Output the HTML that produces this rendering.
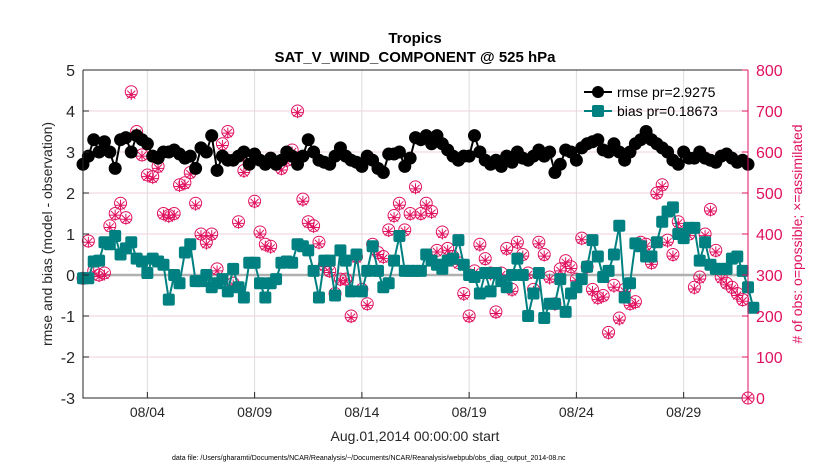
<!DOCTYPE html>
<html><head><meta charset="utf-8">
<style>
body{margin:0;background:#fff;}
svg{display:block;font-family:"Liberation Sans",Arial,sans-serif;}
</style></head>
<body>
<svg id="chart" width="830" height="470" viewBox="0 0 830 470">
  <rect x="0" y="0" width="830" height="470" fill="#fff"/>
  <g id="grid"></g>
  <g id="zero"></g>
  <g id="series"></g>
  <g id="axes"></g>
  <text x="415" y="43" text-anchor="middle" font-size="15" font-weight="bold" fill="#000">Tropics</text>
  <text x="415" y="62" text-anchor="middle" font-size="15" font-weight="bold" fill="#000">SAT_V_WIND_COMPONENT @ 525 hPa</text>
  <text transform="translate(52,234) rotate(-90)" text-anchor="middle" font-size="14" fill="#262626">rmse and bias (model - observation)</text>
  <text transform="translate(802,234) rotate(-90)" text-anchor="middle" font-size="14" fill="#e0115f"># of obs: o=possible; ×=assimilated</text>
  <text x="415" y="441" text-anchor="middle" font-size="14" fill="#262626">Aug.01,2014 00:00:00 start</text>
  <text x="172" y="460" font-size="7" fill="#000">data file: /Users/gharamti/Documents/NCAR/Reanalysis/~/Documents/NCAR/Reanalysis/webpub/obs_diag_output_2014-08.nc</text>
  <g>
    <line x1="584" y1="92" x2="612" y2="92" stroke="#000" stroke-width="2"/>
    <circle cx="598" cy="92" r="6" fill="#000"/>
    <text x="617" y="97" font-size="14" fill="#000">rmse pr=2.9275</text>
    <line x1="584" y1="111" x2="612" y2="111" stroke="#008080" stroke-width="2"/>
    <rect x="592" y="105" width="12" height="12" rx="2" fill="#008080"/>
    <text x="617" y="116" font-size="14" fill="#000">bias pr=0.18673</text>
  </g>
</svg>
<script>
const xTickLabels = ["08/04","08/09","08/14","08/19","08/24","08/29"];
const xTickDays = [3,8,13,18,23,28];
const leftTicks = [-3,-2,-1,0,1,2,3,4,5];
const rightTicks = [0,100,200,300,400,500,600,700,800];
const rmse = [2.7,2.9,3.3,3.0,3.25,3.0,2.6,3.3,3.35,3.0,3.4,3.3,3.2,2.9,2.85,3.0,3.0,3.05,2.95,2.85,2.9,2.6,3.1,3.0,3.4,2.55,2.9,2.8,2.8,2.9,3.0,2.7,2.95,2.8,2.7,2.85,2.7,2.8,3.0,2.9,2.7,2.9,3.3,3.0,2.8,2.75,2.7,2.9,3.1,2.9,2.8,2.75,2.65,2.9,2.8,2.6,2.5,2.95,2.95,3.0,2.65,2.85,3.35,3.3,3.4,3.2,3.4,3.2,3.05,2.9,2.8,2.9,2.9,3.4,3.0,2.8,2.7,2.8,2.65,2.9,2.75,3.0,2.85,2.8,2.9,3.05,2.9,3.0,2.5,2.7,3.05,3.0,2.8,3.1,3.2,3.25,3.3,3.05,3.0,3.2,3.0,2.8,3.0,3.2,3.3,3.5,3.3,3.2,3.1,3.0,2.8,2.7,3.0,2.85,2.85,3.0,2.85,2.8,2.75,2.9,2.95,2.85,2.75,2.8,2.7];
const bias = [-0.08,-0.08,0.33,0.35,0.8,0.75,0.95,0.5,0.65,0.8,0.4,0.33,0.05,0.4,0.33,0.25,-0.6,0.0,-0.2,0.55,0.75,-0.15,-0.15,0.0,-0.3,-0.2,-0.1,-0.4,0.15,-0.3,-0.55,0.3,0.3,-0.2,-0.55,-0.2,-0.1,0.3,0.33,0.3,0.75,0.7,0.6,0.1,-0.55,0.35,0.35,-0.5,0.6,0.35,-0.4,0.5,-0.4,0.1,0.7,0.1,-0.3,-0.2,0.35,0.95,0.1,0.1,0.1,0.1,0.5,0.35,0.25,0.15,0.35,0.4,0.85,0.25,0.0,-0.05,-0.45,0.05,-0.4,0.05,-0.15,-0.3,0.0,0.4,0.0,-1.0,-0.45,0.05,-1.05,-0.7,-0.7,-0.1,-0.9,-0.45,-0.3,-0.1,0.2,0.85,0.45,-0.05,0.1,0.5,1.2,-0.55,-0.2,0.77,0.7,0.45,0.45,0.8,1.3,1.55,1.65,1.0,0.9,1.15,1.15,0.35,0.8,0.25,0.15,0.15,0.15,0.4,0.45,0.1,-0.3,-0.8];
const obsPossible = [292,383,310,300,305,420,450,475,440,747,650,593,544,540,565,450,445,450,520,525,550,475,400,380,400,315,620,650,280,430,555,575,480,405,375,370,575,560,580,605,700,485,430,420,380,325,310,255,290,290,200,345,265,230,375,355,345,410,445,475,410,450,515,450,475,455,360,405,365,345,330,255,200,310,375,340,305,210,305,365,265,380,350,305,265,380,350,295,230,315,335,320,290,390,320,265,245,250,160,275,195,265,230,235,380,375,330,500,520,385,350,430,400,400,270,295,400,460,360,295,280,270,255,240,0];
const obsAssim = [290,380,305,296,300,416,446,470,436,740,645,590,540,535,560,446,440,446,516,520,546,470,396,375,396,310,616,646,276,426,550,570,476,400,370,365,570,556,576,600,696,480,426,416,376,320,306,250,286,286,196,340,260,226,370,350,340,406,440,470,406,446,510,446,470,450,356,400,360,340,326,250,196,306,370,336,300,206,300,360,260,376,346,300,260,376,346,290,226,310,330,316,286,386,316,260,240,246,156,270,190,260,226,230,376,370,326,496,516,380,346,426,396,396,266,290,396,456,356,290,276,266,250,236,0];

const NS='http://www.w3.org/2000/svg';
const L=83,R=748,T=70,B=398;
function xs(i){return L+(i*0.25)*(R-L)/31;}
function xd(d){return L+d*(R-L)/31;}
function yl(v){return B-(v+3)*(B-T)/8;}
function yr(v){return B-v*(B-T)/800;}
function mk(tag,attrs,parent){const e=document.createElementNS(NS,tag);for(const k in attrs)e.setAttribute(k,attrs[k]);parent.appendChild(e);return e;}
const grid=document.getElementById('grid'),axes=document.getElementById('axes'),ser=document.getElementById('series');
rightTicks.forEach(v=>{const g=mk('line',{x1:L,x2:R,y1:yr(v),y2:yr(v),stroke:'#f3cfdc','stroke-width':1},grid);

});
xTickDays.forEach(d=>{const g=mk('line',{x1:xd(d),x2:xd(d),y1:T,y2:B,stroke:'#dcdcdc','stroke-width':1},grid);

});
const z=mk('line',{x1:L,x2:R,y1:yl(0),y2:yl(0),stroke:'#b0b0b0','stroke-width':2.5},document.getElementById('zero'));


const box=mk('path',{d:`M${L},${T}H${R}M${L},${T}V${B}H${R}`,fill:'none',stroke:'#262626','stroke-width':1},axes);


const ra=mk('line',{x1:R,x2:R,y1:T,y2:B,stroke:'#e0115f','stroke-width':1},axes);


leftTicks.forEach(v=>{mk('line',{x1:L,x2:L+6,y1:yl(v),y2:yl(v),stroke:'#262626'},axes);
const t=mk('text',{x:L-8,y:yl(v)+6,'text-anchor':'end','font-size':16,fill:'#262626'},axes);t.textContent=v;

});
rightTicks.forEach(v=>{mk('line',{x1:R-6,x2:R,y1:yr(v),y2:yr(v),stroke:'#e0115f'},axes);
const t=mk('text',{x:R+8,y:yr(v)+6,'font-size':16,fill:'#e0115f'},axes);t.textContent=v;

});
xTickDays.forEach((d,i)=>{mk('line',{x1:xd(d),x2:xd(d),y1:B,y2:B-6,stroke:'#262626'},axes);
const t=mk('text',{x:xd(d),y:B+19,'text-anchor':'middle','font-size':14,fill:'#262626'},axes);t.textContent=xTickLabels[i];

});
obsPossible.forEach((v,i)=>{const c=mk('circle',{cx:xs(i),cy:yr(v),r:6,fill:'none',stroke:'#e0115f','stroke-width':1},ser);

});
obsAssim.forEach((v,i)=>{const x=xs(i),y=yr(v),s=5.5,d=4;
const p=mk('path',{d:`M${x-s},${y}H${x+s}M${x},${y-s}V${y+s}M${x-d},${y-d}L${x+d},${y+d}M${x-d},${y+d}L${x+d},${y-d}`,stroke:'#e0115f','stroke-width':1,fill:'none'},ser);

});
const bl=mk('polyline',{points:bias.map((v,i)=>xs(i)+','+yl(v)).join(' '),fill:'none',stroke:'#008080','stroke-width':2},ser);


bias.forEach((v,i)=>{const r=mk('rect',{x:xs(i)-6,y:yl(v)-6,width:12,height:12,rx:2,fill:'#008080'},ser);

});
const rl=mk('polyline',{points:rmse.map((v,i)=>xs(i)+','+yl(v)).join(' '),fill:'none',stroke:'#000','stroke-width':2},ser);


rmse.forEach((v,i)=>{const c=mk('circle',{cx:xs(i),cy:yl(v),r:6.5,fill:'#000'},ser);

});
</script>
</body></html>
